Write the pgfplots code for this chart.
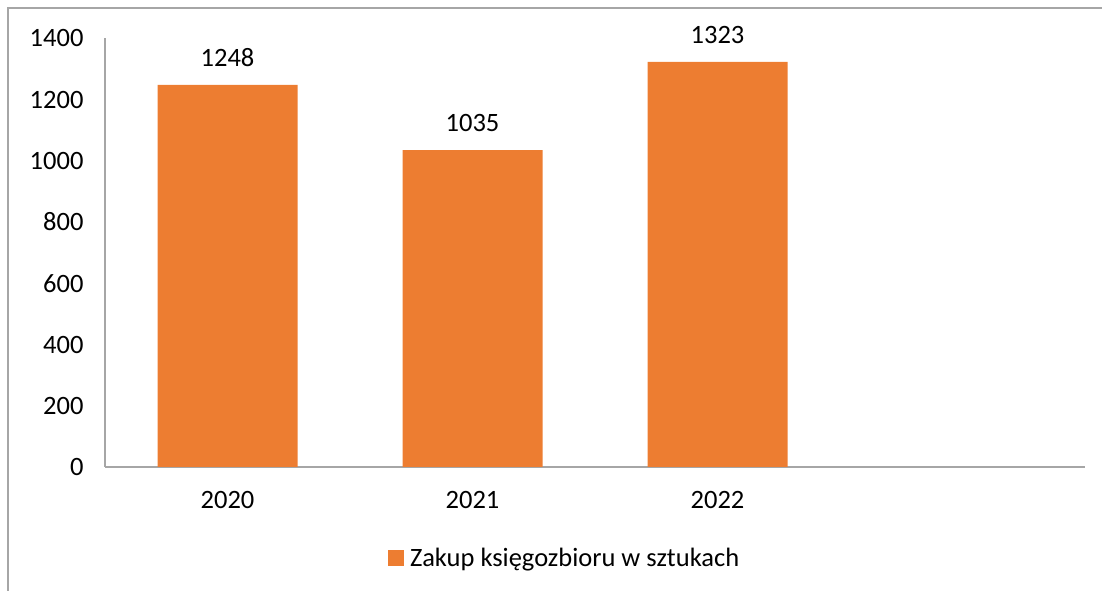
\documentclass[border=0pt]{standalone}
\usepackage{fontspec}
\setmainfont{Carlito}
\usepackage{pgfplots}
\pgfplotsset{compat=1.18}
\definecolor{barorange}{HTML}{ED7D31}
\definecolor{axgray}{HTML}{A6A6A6}
\begin{document}
\begin{tikzpicture}[font=\fontsize{26.5}{31}\selectfont]
\useasboundingbox (0pt,0pt) rectangle (1102pt,591pt);
\draw[axgray, line width=1.5pt] (8pt,-10pt) -- (8pt,583pt) -- (1120pt,583pt);
\begin{axis}[
  at={(105pt,124pt)}, anchor=south west,
  scale only axis, width=980pt, height=428.7pt,
  xmin=-0.5, xmax=3.5, ymin=0, ymax=1400,
  ytick={0,200,...,1400},
  xtick={0,1,2}, xticklabels={2020,2021,2022},
  axis x line*=bottom, axis y line*=left,
  axis line style={axgray, line width=1.5pt, -},
  major tick length=0pt,
  /pgf/number format/assume math mode=true,
  /pgf/number format/1000 sep={},
  yticklabel style={xshift=-18pt, anchor=east},
  xticklabel style={yshift=-21pt, anchor=north},
  ybar, bar width=140pt,
  nodes near coords,
  every node near coord/.append style={yshift=15pt},
  legend style={at={(0.469,-0.212)}, anchor=center, draw=none, fill=none,
    legend cell align=left},
  legend image code/.code={\fill[barorange] (0pt,-8pt) rectangle (16pt,8pt); \path (20pt,0pt);},
]
\addplot[fill=barorange, draw=none] coordinates {(0,1248) (1,1035) (2,1323)};
\addlegendentry{Zakup księgozbioru w sztukach}
\end{axis}
\end{tikzpicture}
\end{document}
